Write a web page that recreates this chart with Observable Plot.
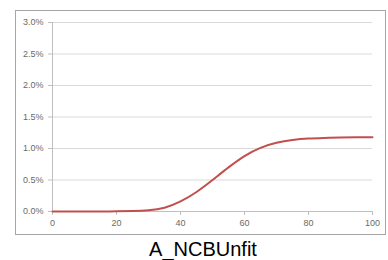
<!DOCTYPE html>
<html>
<head>
<meta charset="utf-8">
<script src="https://cdn.jsdelivr.net/npm/d3@7"></script>
<script src="https://cdn.jsdelivr.net/npm/@observablehq/plot@0.6"></script>
<style>
  body { margin: 0; background: #fff; }
  #wrap { position: relative; width: 388px; height: 260px; overflow: hidden; font-family: "Liberation Sans", Arial, sans-serif; }
  #frame { position: absolute; left: 15px; top: 10px; width: 369px; height: 223px; border: 1px solid #a6a6a6; }
  #chart { position: absolute; left: 0; top: 0; }
  #title { position: absolute; left: 0; width: 406px; top: 238px; text-align: center; font-size: 20px; color: #000; }
</style>
</head>
<body>
<div id="wrap">
  <div id="frame"></div>
  <div id="chart"></div>
  <div id="title">A_NCBUnfit</div>
</div>
<script>
const xValues = [0, 5, 10, 15, 20, 25, 30, 35, 40, 45, 50, 55, 60, 65, 70, 75, 80, 85, 90, 95, 100];
const yValues = [0.0000, 0.0000, 0.0000, 0.00001, 0.00003, 0.00008, 0.0002, 0.0006, 0.0016, 0.0031, 0.0050, 0.0070, 0.0088, 0.0101, 0.01090, 0.01135, 0.01158, 0.01168, 0.01175, 0.01178, 0.0118];
const xTicks = [0, 20, 40, 60, 80, 100];
const yTicks = [0, 0.005, 0.01, 0.015, 0.02, 0.025, 0.03];

const data = xValues.map((x, i) => ({x, y: yValues[i]}));

const chart = Plot.plot({
  width: 388,
  height: 236,
  marginLeft: 52,
  marginRight: 16,
  marginTop: 22,
  marginBottom: 25,
  style: { fontFamily: "'Liberation Sans', Arial, sans-serif", fontSize: "9px", color: "#6a6a6a", background: "transparent" },
  x: { domain: [0, 100], ticks: xTicks, tickSize: 4, tickPadding: 4, label: null },
  y: { domain: [0, 0.03], ticks: yTicks, tickFormat: d3.format(".1%"), tickSize: 4, tickPadding: 5, label: null },
  marks: [
    Plot.gridY(yTicks, { stroke: "#d9d9d9", strokeOpacity: 1 }),
    Plot.axisY({ ticks: yTicks, tickFormat: d3.format(".1%"), tickSize: 4, tickPadding: 5, stroke: "#bfbfbf", fill: "#6a6a6a", label: null }),
    Plot.axisX({ ticks: xTicks, tickSize: 4, tickPadding: 4, stroke: "#bfbfbf", fill: "#6a6a6a", label: null }),
    Plot.ruleX([0], { stroke: "#bfbfbf" }),
    Plot.ruleY([0], { stroke: "#bfbfbf" }),
    Plot.line(data, { x: "x", y: "y", stroke: "#c0504d", strokeWidth: 2, curve: "natural" })
  ]
});
document.getElementById("chart").appendChild(chart);
</script>
</body>
</html>
